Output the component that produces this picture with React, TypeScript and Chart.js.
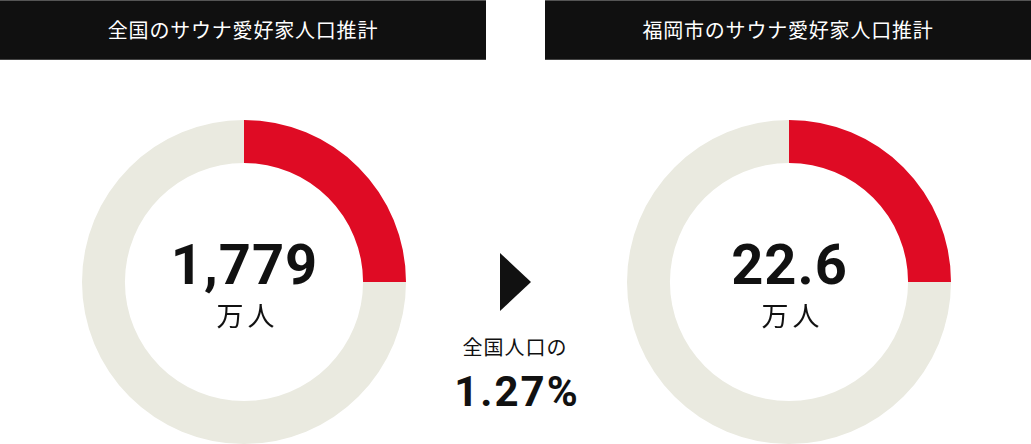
import React, { useEffect, useRef } from 'react';
import { Chart, registerables } from 'chart.js';

Chart.register(...registerables);

const segmentLabels = ['サウナ愛好家', 'その他'];
const nationalShare = [25, 75];
const fukuokaShare = [25, 75];
const segmentColors = ['#df0b24', '#eaeae0'];

const titles = ['全国のサウナ愛好家人口推計', '福岡市のサウナ愛好家人口推計'];
const centerValues = ['1,779', '22.6'];
const unitLabel = '万人';
const ratioLabel = '全国人口の';
const ratioValue = '1.27%';

const JP_FONT = '"Noto Sans CJK JP", "Noto Sans", sans-serif';
const NUM_FONT = 'Roboto, "Noto Sans", sans-serif';

interface DonutProps {
  values: number[];
  value: string;
  left: number;
}

const Donut: React.FC<DonutProps> = ({ values, value, left }) => {
  const canvasRef = useRef<HTMLCanvasElement | null>(null);
  const chartRef = useRef<Chart | null>(null);

  useEffect(() => {
    if (!canvasRef.current) return;
    if (chartRef.current) chartRef.current.destroy();

    chartRef.current = new Chart(canvasRef.current, {
      type: 'doughnut',
      data: {
        labels: segmentLabels,
        datasets: [
          {
            data: values,
            backgroundColor: segmentColors,
            borderWidth: 0,
          },
        ],
      },
      options: {
        animation: false,
        responsive: false,
        cutout: '73.5%',
        plugins: {
          legend: { display: false },
          tooltip: { enabled: false },
        },
        layout: { padding: 0 },
      },
    });

    return () => {
      if (chartRef.current) {
        chartRef.current.destroy();
        chartRef.current = null;
      }
    };
  }, [values]);

  return (
    <div style={{ position: 'absolute', left, top: 120, width: 324, height: 324 }}>
      <canvas ref={canvasRef} width={324} height={324} style={{ width: 324, height: 324 }} />
      <div
        style={{
          position: 'absolute',
          left: 0,
          width: 324,
          top: 115,
          textAlign: 'center',
          fontFamily: NUM_FONT,
          fontWeight: 700,
          fontSize: 56,
          lineHeight: '60px',
          letterSpacing: 1,
          paddingLeft: 1,
          color: '#111',
        }}
      >
        {value}
      </div>
      <div
        style={{
          position: 'absolute',
          left: 0,
          width: 324,
          top: 179,
          textAlign: 'center',
          fontFamily: JP_FONT,
          fontSize: 27,
          lineHeight: '32px',
          letterSpacing: 4,
          paddingLeft: 4,
          color: '#111',
        }}
      >
        {unitLabel}
      </div>
    </div>
  );
};

const headerStyle = (left: number, width: number): React.CSSProperties => ({
  position: 'absolute',
  left,
  top: 0,
  width,
  height: 60,
  boxSizing: 'border-box',
  background: '#101010',
  borderTop: '1px solid #555',
  borderBottom: '1px solid #444',
  color: '#fff',
  fontFamily: JP_FONT,
  fontSize: 20,
  lineHeight: '58px',
  letterSpacing: 0.8,
  textAlign: 'center',
});

export default function App() {
  return (
    <div style={{ position: 'relative', width: 1031, height: 444, overflow: 'hidden', background: '#fff' }}>
      <style>{`body{margin:0}`}</style>
      <div style={headerStyle(0, 486)}>{titles[0]}</div>
      <div style={headerStyle(545, 486)}>{titles[1]}</div>

      <Donut values={nationalShare} value={centerValues[0]} left={81.5} />
      <Donut values={fukuokaShare} value={centerValues[1]} left={626.5} />

      <div
        style={{
          position: 'absolute',
          left: 500,
          top: 253,
          width: 0,
          height: 0,
          borderLeft: '31px solid #111',
          borderTop: '29.5px solid transparent',
          borderBottom: '29.5px solid transparent',
        }}
      />
      <div
        style={{
          position: 'absolute',
          left: 415,
          width: 200,
          top: 334,
          textAlign: 'center',
          fontFamily: JP_FONT,
          fontSize: 20,
          lineHeight: '26px',
          letterSpacing: 1,
          color: '#111',
        }}
      >
        {ratioLabel}
      </div>
      <div
        style={{
          position: 'absolute',
          left: 415,
          width: 200,
          top: 370,
          textAlign: 'center',
          fontFamily: NUM_FONT,
          fontWeight: 700,
          fontSize: 42,
          lineHeight: '44px',
          letterSpacing: 2,
          paddingLeft: 2,
          color: '#111',
        }}
      >
        {ratioValue}
      </div>
    </div>
  );
}
